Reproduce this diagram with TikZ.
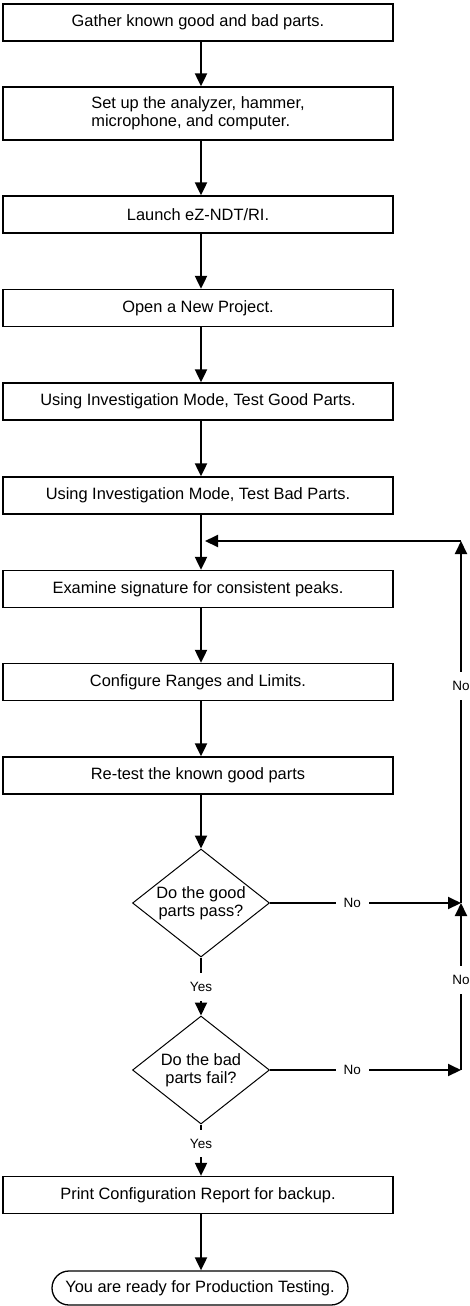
\documentclass[tikz,border=0pt]{standalone}
\usepackage{fontspec}
\setmainfont{Liberation Sans}
\usetikzlibrary{arrows.meta,shapes.geometric,shadows}
\begin{document}
\begin{tikzpicture}[x=1pt,y=-1pt,
  every node/.style={font=\fontsize{16.4}{18.5}\selectfont},
  stepbox/.style={draw, line width=1.3pt, fill=white,
    minimum width=390pt, minimum height=37pt, inner sep=0pt,
    drop shadow={shadow xshift=0.9pt, shadow yshift=-0.9pt, fill=black!45, opacity=1}},
  decision/.style={draw, diamond, line width=1pt, aspect=1.27,
    minimum width=137pt, minimum height=108pt, inner sep=0pt, align=center},
  terminal/.style={draw, line width=1.3pt, rounded corners=17pt,
    minimum width=296pt, minimum height=34pt, inner sep=0pt},
  flow/.style={line width=2pt, -{Triangle[length=13pt,width=12pt]}},
  lbl/.style={fill=white, inner xsep=8pt, inner ysep=9pt,
    font=\fontsize{13.5}{15}\selectfont}
]
\useasboundingbox (0,0) rectangle (469,1306);

% main column
\coordinate (spine) at (201,0);
\node[stepbox] (b1) at (198,22.5) {Gather known good and bad parts.};
\node[stepbox, minimum height=53pt, align=left] (b2) at (198,113.5)
  {Set up the analyzer, hammer,\\microphone, and computer.};
\node[stepbox] (b3) at (198,214.5) {Launch eZ-NDT/RI.};
\node[stepbox] (b4) at (198,308) {Open a New Project.};
\node[stepbox] (b5) at (198,401.5) {Using Investigation Mode, Test Good Parts.};
\node[stepbox] (b6) at (198,495.5) {Using Investigation Mode, Test Bad Parts.};
\node[stepbox] (b7) at (198,589) {Examine signature for consistent peaks.};
\node[stepbox] (b8) at (198,682) {Configure Ranges and Limits.};
\node[stepbox] (b9) at (198,775.5) {Re-test the known good parts};
\node[decision] (d1) at (201,903) {Do the good\\parts pass?};
\node[decision] (d2) at (201,1070) {Do the bad\\parts fail?};
\node[stepbox] (b10) at (198,1195) {Print Configuration Report for backup.};
\node[terminal] (t) at (200,1288) {You are ready for Production Testing.};

% return loop on the right
\coordinate (rtop) at (461,541);
\coordinate (rmid) at (461,903);
\coordinate (rbot) at (461,1070);
\coordinate (ret) at (205,541);

% straight-down flow
\draw[flow] (b1.south -| spine) -- (b2.north -| spine);
\draw[flow] (b2.south -| spine) -- (b3.north -| spine);
\draw[flow] (b3.south -| spine) -- (b4.north -| spine);
\draw[flow] (b4.south -| spine) -- (b5.north -| spine);
\draw[flow] (b5.south -| spine) -- (b6.north -| spine);
\draw[flow] (b6.south -| spine) -- (b7.north -| spine);
\draw[flow] (b7.south -| spine) -- (b8.north -| spine);
\draw[flow] (b8.south -| spine) -- (b9.north -| spine);
\draw[flow] (b9.south -| spine) -- (d1.north);
\draw[flow] (d1.south) -- node[lbl, pos=.51] {Yes} (d2.north);
\draw[flow] (d2.south) -- node[lbl, pos=.37] {Yes} (b10.north -| spine);
\draw[flow] (b10.south -| spine) -- (t.north -| spine);

% "No" branches back to the examination step
\draw[flow] (d1.east) -- node[lbl, pos=.43] {No} (rmid);
\draw[flow] (d2.east) -- node[lbl, pos=.43] {No} (rbot);
\draw[flow] (rbot) -- node[lbl, pos=.54] {No} (rmid);
\draw[flow] (rmid) -- node[lbl, pos=.6] {No} (rtop);
\draw[flow] (rtop) -- (ret);
\end{tikzpicture}
\end{document}
